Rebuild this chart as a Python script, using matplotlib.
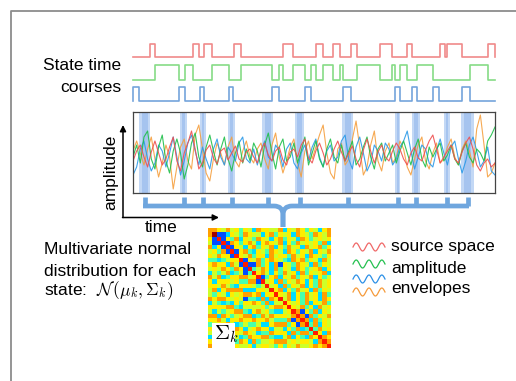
import numpy as np
import matplotlib.pyplot as plt
from matplotlib.path import Path
from matplotlib.patches import PathPatch, Rectangle

plt.rcParams['font.family'] = ['Liberation Sans', 'DejaVu Sans']
plt.rcParams['mathtext.fontset'] = 'cm'

W, H = 516, 381

# state time courses: (start, end) of "on" periods, time in samples 0..362
red_on = [(17, 22), (60, 66), (71, 79), (101, 108), (150, 160), (183, 190),
          (200, 207), (218, 224), (247, 259), (274, 279), (307, 312), (314, 329),
          (355, 362)]
green_on = [(22, 46), (52, 60), (79, 96), (108, 139), (146, 150), (160, 172),
            (178, 183), (190, 200), (207, 210), (224, 247), (259, 262), (267, 274),
            (284, 300), (337, 355)]
blue_on = [(0, 6), (46, 52), (67, 71), (96, 100), (139, 146), (172, 178),
           (210, 218), (262, 267), (279, 284), (300, 306), (329, 337)]
t_end = 362

# highlighted visits of the blue state in the data
highlight = [(7, 16), (48, 53), (68, 72), (96, 101), (130, 139), (163, 170),
             (210, 219), (263, 266), (280, 286), (312, 316), (329, 340)]

# example channels (amplitude)
sig_red = [-6, 4, 10, -2, -12, 3, 14, 2, -10, -4, 8, 18, -6, -16, 2, 12, 24, 6, -14, -8,
           5, 10, -3, -9, 4, 7, -5, 2, 9, -4, -7, 3, 6, -2, -8, 5, 12, 0, -6, 4,
           8, -5, -10, 3, 6, -2, 10, 16, -3, -8, 4, 12, 2, -10, -4, 6, 14, 3, -6, 2,
           9, -4, -12, 5, 16, 4, -8, 3, 10, -2, -6, 4, 12, 6, -4, -10, 2, 8, -3, -6,
           5, 14, 20, 6, -8, -2, 4, 10, -4, -8, 3, 12, 18, 6, -10, -16, -8, -4, -12, -8]
sig_green = [-2, 10, -8, 18, 24, -4, -14, 8, 20, -6, -18, 4, 16, 2, -24, -10, 12, 22, -2, -12,
             8, 20, 4, -10, 6, 18, -4, -16, 2, 14, -8, 6, -6, 12, 4, -12, 10, 22, 2, -14,
             8, 16, -6, -2, 12, -8, 4, 18, -10, 2, 14, -4, -12, 6, 16, -2, -8, 10, -6, 4,
             14, -10, -4, 8, 18, -2, -14, 6, 12, -6, 2, 10, -8, 4, 14, 2, -10, 6, 16, -4,
             -12, 8, -2, 6, 12, -6, 0, 10, -4, -10, 4, 12, -2, -8, 6, 2, -6, 14, 20, 28]
sig_blue = [-20, -12, 6, 14, -4, -16, -8, 10, 4, -12, 2, 18, -2, -20, -6, 12, 20, 4, -10, 8,
            -4, -14, 6, 16, -2, -10, 8, 2, -6, 12, 18, -4, -8, 6, -10, 4, 14, -2, -6, 10,
            4, -12, 6, 12, -8, -14, 2, 10, -6, 8, 16, -2, -12, 4, 10, -6, -2, 14, 20, -4,
            -14, 8, 18, 2, -16, -8, 10, 4, -6, 12, 6, -10, -4, 8, 14, 24, 4, -14, -2, 10,
            6, -8, -12, 4, 16, 2, -10, 8, 14, -4, -18, -6, 10, 18, 4, -12, -6, 8, -16, -20]
sig_orange = [4, 14, 2, -10, 6, 18, -4, -22, -8, 10, -2, -34, -12, 8, 16, -6, -14, 20, 30, 6,
              -18, -26, -4, 12, 2, -10, 8, 18, -6, -12, 4, 14, -2, -8, 6, 12, -4, -14, 10, 22,
              -2, -18, -6, 8, 16, -8, -22, 4, 14, -4, 8, 20, 30, 2, -18, -24, 6, 12, -10, -4,
              16, 34, 8, -20, -12, 10, 24, -6, -16, 4, 12, -8, -2, 14, 6, -12, -20, -4, 10, 18,
              -6, -14, 2, 12, -8, -4, 8, 16, -2, -10, 6, 14, 4, -12, 26, 40, 10, -22, -18, -8]

# covariance of one state, as colour levels (upper triangle used, diagonal separate)
cov_rows = [
    "7765756465376655736576465367",
    "7922365476553674656376547657",
    "6282647365476536746537645656",
    "5628276467536765736475656473",
    "6757826536746573647563756746",
    "7636682674365476537646573657",
    "4675328657466375664756376546",
    "6357626826574676543767465375",
    "7563746582274637265476537465",
    "5674563628457637465376456736",
    "6476375642867536475637465673",
    "7365476536782467365746573645",
    "5637465376428563746576364756",
    "6475637465736856374657364756",
    "7536746537465486736475637465",
    "4763574637465738657364756374",
    "6375463746537463857364756376",
    "5647365746375647386564736574",
    "7365746374657364738657463756",
    "6473657463745637467372647365",
    "5736475637465736475637274657",
    "6475367456374657362475737465",
    "7364756374657364756372747365",
    "5647365746375647365746374756",
    "6375467365746375647365747637",
    "7465736475637465736475637476",
    "5736475637465736475637465747",
    "6475637465736475637465736477",
]
cov_diag = "7988888888888888888888888888"
level_value = {'2': 0.2, '3': 0.34, '4': 0.44, '5': 0.6, '6': 0.66,
               '7': 0.74, '8': 0.88, '9': 0.97}

fig = plt.figure(figsize=(W / 100, H / 100), dpi=100)


def rect(x0, y0, x1, y1):
    return [x0 / W, 1 - y1 / H, (x1 - x0) / W, (y1 - y0) / H]


# state time courses
ax_s = fig.add_axes(rect(133, 40, 495, 106))
ax_s.set_xlim(0, t_end)
ax_s.set_ylim(106, 40)
ax_s.axis('off')
for on, col, low, hgt in [(red_on, '#f08a8a', 57, 13),
                          (green_on, '#86dc86', 80, 15),
                          (blue_on, '#74a4dc', 101, 14)]:
    xs, ys = [0], [0]
    for a, b in on:
        xs += [a, a, b, b]
        ys += [0, 1, 1, 0]
    xs.append(t_end)
    ys.append(0)
    ax_s.plot(xs, low - hgt * np.array(ys), color=col, lw=1.2, clip_on=False)

# data panel
ax_d = fig.add_axes(rect(133, 112, 495, 193))
ax_d.set_xlim(0, t_end)
ax_d.set_ylim(-38, 43)
ax_d.set_xticks([])
ax_d.set_yticks([])
for sp in ax_d.spines.values():
    sp.set_color('#444444')
    sp.set_linewidth(0.9)
for a, b in highlight:
    ax_d.axvspan(a - 1, b + 1, color='#c3d8f5', lw=0)
    m, w = (a + b) / 2, (b - a) / 3
    ax_d.axvspan(m - w, m + w, color='#a6c4ef', lw=0)
for sig, col in [(sig_orange, '#f5a040'), (sig_blue, '#2b9ae8'),
                 (sig_green, '#1fbf4a'), (sig_red, '#ef5050')]:
    x = np.linspace(0, t_end, len(sig))
    ax_d.plot(x, sig, color=col, lw=0.8, alpha=0.9)

# covariance matrix
M = np.array([[level_value[c] for c in r] for r in cov_rows])
cov = np.triu(M, 1) + np.triu(M, 1).T
np.fill_diagonal(cov, [level_value[c] for c in cov_diag])
ax_m = fig.add_axes(rect(208, 228, 331, 348))
ax_m.imshow(cov, cmap='jet', vmin=0, vmax=1, aspect='auto', interpolation='nearest')
ax_m.axis('off')

# overlay in pixel units
ax = fig.add_axes([0, 0, 1, 1])
ax.set_xlim(0, W)
ax.set_ylim(H, 0)
ax.axis('off')

ax.plot([11, 11, W], [H, 10.5, 10.5], color='#8c8c8c', lw=1.3)

fs = 12.5
ax.text(121, 65, 'State time', ha='right', va='center', fontsize=fs)
ax.text(121, 87, 'courses', ha='right', va='center', fontsize=fs)

# axes arrows
ax.annotate('', xy=(123, 125), xytext=(123, 217.5),
            arrowprops=dict(arrowstyle='-|>', color='black', lw=1.1,
                            mutation_scale=9, shrinkA=0, shrinkB=0))
ax.annotate('', xy=(219, 217.5), xytext=(122.5, 217.5),
            arrowprops=dict(arrowstyle='-|>', color='black', lw=1.1,
                            mutation_scale=9, shrinkA=0, shrinkB=0))
ax.text(111, 172, 'amplitude', rotation=90, ha='center', va='center', fontsize=fs)
ax.text(161, 227, 'time', ha='center', va='center', fontsize=fs)

# bracket collecting the visits
bc = '#6fa6de'
x0 = 133
centers = [x0 + (a + b) / 2 for a, b in highlight]
cx = 283
by = 206
lw_b = 3.4
for c in centers:
    ax.plot([c, c], [196.5, by], color=bc, lw=lw_b, solid_capstyle='butt')
for end in (centers[0] - 1.5, centers[-1] + 1.5):
    side = 1 if end < cx else -1
    verts = [(end, by), (cx - side * 9, by), (cx, by), (cx, by + 9), (cx, 227)]
    codes = [Path.MOVETO, Path.LINETO, Path.CURVE3, Path.CURVE3, Path.LINETO]
    ax.add_patch(PathPatch(Path(verts, codes), fill=False, color=bc, lw=lw_b,
                           capstyle='butt', joinstyle='round'))

ax.text(44, 250, 'Multivariate normal', ha='left', va='center', fontsize=fs)
ax.text(44, 271, 'distribution for each', ha='left', va='center', fontsize=fs)
ax.text(44, 291, r'state:  $\mathcal{N}\,(\mu_k,\Sigma_k)$', ha='left', va='center',
        fontsize=fs)

# sigma label on the matrix
ax.add_patch(Rectangle((212, 323), 23, 25, color='white', lw=0))
ax.text(214, 345, r'$\Sigma_k$', ha='left', va='bottom', fontsize=15)

# legend
wx = np.linspace(353, 385, 60)
for yc, col in [(247, '#f06868'), (264, '#25c050'), (279, '#2b8fe6'), (292, '#f59a3a')]:
    ax.plot(wx, yc - 4 * np.sin((wx - 353) / 32 * 2.5 * 2 * np.pi), color=col, lw=0.9)
ax.text(391, 247, 'source space', ha='left', va='center', fontsize=fs)
ax.text(391, 268, 'amplitude', ha='left', va='center', fontsize=fs)
ax.text(391, 289, 'envelopes', ha='left', va='center', fontsize=fs)

fig.savefig('out.png', dpi=100)
